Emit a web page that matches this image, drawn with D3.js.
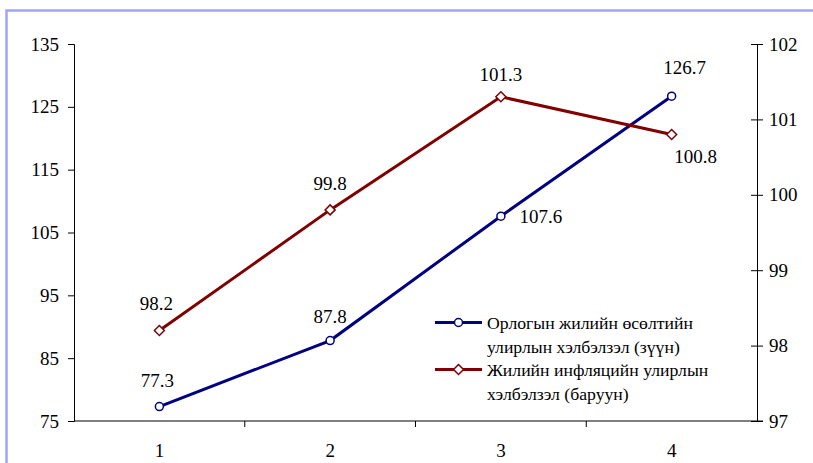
<!DOCTYPE html>
<html>
<head>
<meta charset="utf-8">
<script src="https://cdn.jsdelivr.net/npm/d3@7"></script>
<style>
  html, body { margin: 0; padding: 0; background: #fff; }
  svg { display: block; }
</style>
</head>
<body>
<svg id="chart" width="813" height="463"></svg>
<script>
// Quarters on the x axis
const categories = [1, 2, 3, 4];
// Seasonal fluctuation of annual income growth (left axis)
const incomeValues = [77.3, 87.8, 107.6, 126.7];
// Seasonal fluctuation of annual inflation (right axis)
const inflationValues = [98.2, 99.8, 101.3, 100.8];
const leftTicks = [75, 85, 95, 105, 115, 125, 135];
const rightTicks = [97, 98, 99, 100, 101, 102];
const legendLabels = [
  ["Орлогын жилийн өсөлтийн", "улирлын хэлбэлзэл (зүүн)"],
  ["Жилийн инфляцийн улирлын", "хэлбэлзэл (баруун)"]
];

const FONT = "Liberation Serif";
const FS = 19;
const LEGEND_FS = 17.7;
const svg = d3.select("#chart");
const plot = { left: 74, right: 757, top: 44, bottom: 421 };

// Frame around the chart area
svg.append("path")
  .attr("d", "M6.5,463 L6.5,10.5 L813,10.5")
  .attr("fill", "none")
  .attr("stroke", "#a3a3f5")
  .attr("stroke-width", 2.5);

const x = d3.scaleBand().domain(categories).range([plot.left, plot.right]);
const yL = d3.scaleLinear().domain([75, 135]).range([plot.bottom, plot.top]);
const yR = d3.scaleLinear().domain([97, 102]).range([plot.bottom, plot.top]);
const cx = d => x(d) + x.bandwidth() / 2;

// Left axis
const gL = svg.append("g").attr("transform", `translate(${plot.left},0)`)
  .call(d3.axisLeft(yL).tickValues(leftTicks).tickSize(6).tickPadding(9).tickFormat(d3.format("d")));
// Right axis
const gR = svg.append("g").attr("transform", `translate(${plot.right},0)`)
  .call(d3.axisRight(yR).tickValues(rightTicks).tickSize(0).tickPadding(12).tickFormat(d3.format("d")));
gR.selectAll(".tick").append("line").attr("x1", -6).attr("x2", 6).attr("stroke", "#000");
// Category axis
const gX = svg.append("g").attr("transform", `translate(0,${plot.bottom})`)
  .call(d3.axisBottom(x).tickSize(0).tickPadding(23));
gX.selectAll(".tick line").remove();
gX.selectAll(".divider").data(categories.slice(1))
  .enter().append("line").attr("class", "divider")
  .attr("x1", d => x(d)).attr("x2", d => x(d))
  .attr("y1", 0).attr("y2", 6).attr("stroke", "#000");
[gL, gR, gX].forEach(g => {
  g.select(".domain").attr("stroke", "#000").attr("stroke-width", 1);
});
gL.selectAll(".tick line").attr("stroke", "#000");
gX.select(".domain").attr("d", `M${plot.left},0H${plot.right + 6}`);

const blue = "#000080", red = "#800000";

// Income series
const lineL = d3.line().x((d, i) => cx(categories[i])).y(d => yL(d));
svg.append("path").datum(incomeValues).attr("d", lineL)
  .attr("fill", "none").attr("stroke", blue).attr("stroke-width", 3);
svg.selectAll(".ptL").data(incomeValues).enter().append("circle")
  .attr("cx", (d, i) => cx(categories[i])).attr("cy", d => yL(d)).attr("r", 4)
  .attr("fill", "#fff").attr("stroke", blue).attr("stroke-width", 1.5);

// Inflation series
const lineR = d3.line().x((d, i) => cx(categories[i])).y(d => yR(d));
svg.append("path").datum(inflationValues).attr("d", lineR)
  .attr("fill", "none").attr("stroke", red).attr("stroke-width", 3);
const diamond = "M0,-5L5,0L0,5L-5,0Z";
svg.selectAll(".ptR").data(inflationValues).enter().append("path")
  .attr("d", diamond)
  .attr("transform", (d, i) => `translate(${cx(categories[i])},${yR(d)})`)
  .attr("fill", "#fff").attr("stroke", red).attr("stroke-width", 1.5);

// Value labels
const labelOffsetsL = [[-2, -20], [0, -18], [40, 7], [13, -22]];
const labelOffsetsR = [[-3, -21], [0, -20], [0, -16], [24, 29]];
svg.selectAll(".lblL").data(incomeValues).enter().append("text")
  .attr("class", "num")
  .attr("x", (d, i) => cx(categories[i]) + labelOffsetsL[i][0])
  .attr("y", (d, i) => yL(d) + labelOffsetsL[i][1])
  .attr("text-anchor", "middle")
  .text(d => d.toFixed(1));
svg.selectAll(".lblR").data(inflationValues).enter().append("text")
  .attr("class", "num")
  .attr("x", (d, i) => cx(categories[i]) + labelOffsetsR[i][0])
  .attr("y", (d, i) => yR(d) + labelOffsetsR[i][1])
  .attr("text-anchor", "middle")
  .text(d => d.toFixed(1));

// Legend
const legend = svg.append("g").attr("transform", "translate(435,322.5)");
[blue, red].forEach((c, i) => {
  const g = legend.append("g").attr("transform", `translate(0,${i * 47})`);
  g.append("line").attr("x1", 0).attr("x2", 47).attr("y1", 0).attr("y2", 0)
    .attr("stroke", c).attr("stroke-width", 3);
  if (i === 0) {
    g.append("circle").attr("cx", 23.5).attr("cy", 0).attr("r", 4)
      .attr("fill", "#fff").attr("stroke", c).attr("stroke-width", 1.5);
  } else {
    g.append("path").attr("d", diamond).attr("transform", "translate(23.5,0)")
      .attr("fill", "#fff").attr("stroke", c).attr("stroke-width", 1.5);
  }
  legendLabels[i].forEach((t, j) => {
    g.append("text").attr("class", "leg").attr("x", 52).attr("y", j * 23.5 + 6.5).text(t);
  });
});

// Typeface applied to every text element directly
svg.selectAll("text")
  .attr("font-family", FONT)
  .attr("font-size", FS)
  .attr("fill", "#000");
svg.selectAll("text.leg").attr("font-size", LEGEND_FS);
</script>
</body>
</html>
